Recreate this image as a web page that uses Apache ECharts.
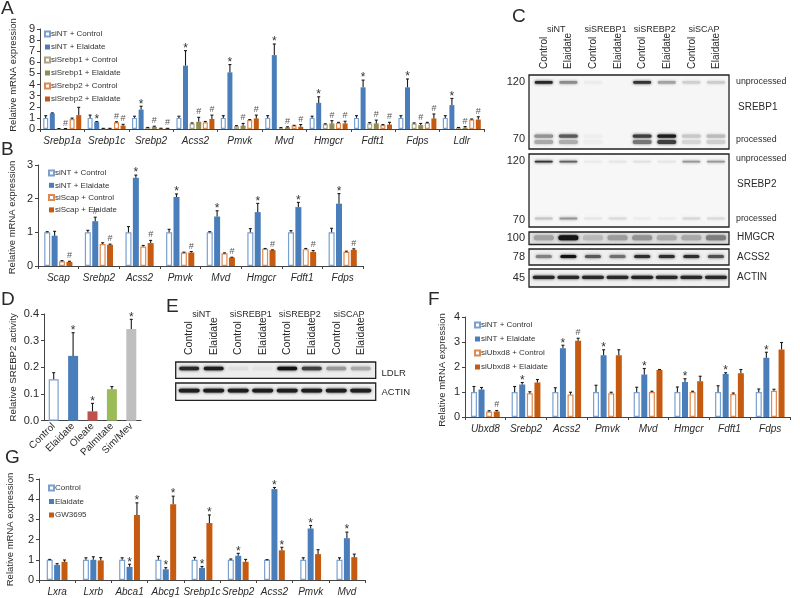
<!DOCTYPE html>
<html><head><meta charset="utf-8">
<style>html,body{margin:0;padding:0;background:#fff}#c{width:800px;height:598px;filter:blur(0.35px)}</style>
<script src="https://cdn.jsdelivr.net/npm/echarts@6/dist/echarts.min.js"></script>
</head><body><div id="c"></div>
<script>
// ---------- Panel A ----------
const aCats=['Srebp1a','Srebp1c','Srebp2','Acss2','Pmvk','Mvd','Hmgcr','Fdft1','Fdps','Ldlr'];
const aNames=['siNT + Control','siNT + Elaidate','siSrebp1 + Control','siSrebp1 + Elaidate','siSrebp2 + Control','siSrebp2 + Elaidate'];
const aVals=[
 [1,1,1,1,1,1,1,1,1,1],
 [1.4,0.62,1.75,5.7,5.1,6.65,2.35,3.75,3.75,2.15],
 [0.03,0.05,0.12,0.5,0.25,0.1,0.42,0.5,0.5,0.12],
 [0.03,0.05,0.2,0.65,0.3,0.15,0.5,0.5,0.35,0.12],
 [0.9,0.6,0.06,0.6,0.8,0.3,0.55,0.35,0.55,0.85],
 [1.25,0.3,0.05,0.9,0.95,0.2,0.5,0.4,0.95,0.85]];
const aErrs=[
 [0.2,0.25,0.15,0.15,0.2,0.2,0.15,0.2,0.2,0.2],
 [0.05,0.05,0.3,1.35,0.7,1.0,0.55,0.65,0.75,0.6],
 [0.01,0.01,0.02,0.05,0.05,0.03,0.05,0.08,0.05,0.02],
 [0.01,0.01,0.05,0.4,0.2,0.05,0.25,0.3,0.15,0.1],
 [0.08,0.05,0.01,0.08,0.05,0.03,0.05,0.05,0.05,0.05],
 [0.7,0.12,0.01,0.35,0.3,0.2,0.2,0.2,0.4,0.25]];
const aMarks=['   #  ',' *  ##',' * # #',' * # #',' * # #',' * # #',' * # #',' * # #',' * # #',' * # #'];
// ---------- Panel B ----------
const bCats=['Scap','Srebp2','Acss2','Pmvk','Mvd','Hmgcr','Fdft1','Fdps'];
const bNames=['siNT + Control','siNT + Elaidate','siScap + Control','siScap + Elaidate'];
const bVals=[
 [1,1,1,1,1,1,1,1],
 [0.9,1.33,2.62,2.05,1.47,1.6,1.75,1.85],
 [0.14,0.65,0.58,0.4,0.38,0.51,0.5,0.42],
 [0.12,0.63,0.68,0.4,0.25,0.47,0.42,0.48]];
const bErrs=[
 [0.02,0.06,0.17,0.09,0.02,0.11,0.05,0.12],
 [0.13,0.12,0.08,0.09,0.17,0.26,0.14,0.3],
 [0.02,0.04,0.03,0.01,0.01,0.01,0.02,0.02],
 [0.02,0.02,0.08,0.03,0.01,0.01,0.04,0.03]];
const bMarks=['   #',' # #',' * #',' * #',' * #',' * #',' * #',' * #'];
// ---------- Panel D ----------
const dCats=['Control','Elaidate','Oleate','Palmitate','Sim/Mev'];
const dVals=[0.155,0.243,0.035,0.118,0.344];
const dErrs=[0.025,0.087,0.03,0.01,0.036];
const dMarks=[' ','*','*',' ','*'];
// ---------- Panel F ----------
const fCats=['Ubxd8','Srebp2','Acss2','Pmvk','Mvd','Hmgcr','Fdft1','Fdps'];
const fNames=['siNT + Control','siNT + Elaidate','siUbxd8 + Control','siUbxd8 + Elaidate'];
const fVals=[
 [1,1,1,1,1,1,1,1],
 [1.1,1.3,2.75,2.47,1.7,1.4,1.72,2.37],
 [0.22,0.95,0.9,0.95,1.0,1.0,0.92,1.05],
 [0.22,1.38,3.05,2.47,1.88,1.43,1.75,2.7]];
const fErrs=[
 [0.22,0.22,0.17,0.27,0.19,0.2,0.25,0.12],
 [0.08,0.08,0.12,0.22,0.24,0.13,0.05,0.22],
 [0.03,0.06,0.09,0.04,0.03,0.03,0.04,0.06],
 [0.04,0.12,0.1,0.22,0.02,0.2,0.15,0.28]];
const fMarks=['   #',' *  ',' * #',' *  ',' *  ',' *  ',' *  ',' *  '];
// ---------- Panel G ----------
const gCats=['Lxra','Lxrb','Abca1','Abcg1','Srebp1c','Srebp2','Acss2','Pmvk','Mvd'];
const gNames=['Control','Elaidate','GW3695'];
const gVals=[
 [1,1,1,1,1,1,1,1,1],
 [0.75,1,0.65,0.53,0.6,1.2,4.5,2.55,2.07],
 [0.9,0.97,3.22,3.75,2.82,0.9,1.47,1.28,1.13]];
const gErrs=[
 [0.02,0.1,0.1,0.17,0.12,0.04,0.01,0.1,0.1],
 [0.06,0.15,0.13,0.08,0.07,0.12,0.08,0.15,0.3],
 [0.09,0.14,0.6,0.4,0.4,0.12,0.15,0.22,0.15]];
const gMarks=['   ','   ',' **',' **',' **',' * ',' **',' * ',' * '];
// ---------- Blots: band darkness per lane (0..1) ----------
const lanes=['Control','Elaidate','Control','Elaidate','Control','Elaidate','Control','Elaidate'];
const groupsBlot=['siNT','siSREBP1','siSREBP2','siSCAP'];
const c1Unprocessed=[0.9,0.45,0.02,0,0.85,0.35,0.15,0.16];
const c1ProcessedUp=[0.42,0.68,0.01,0,0.8,0.95,0.18,0.24];
const c1ProcessedLow=[0.32,0.3,0.01,0,0.55,0.8,0.12,0.15];
const c2Unprocessed=[0.85,0.65,0.03,0.05,0.07,0.05,0.4,0.4];
const c2Processed=[0.2,0.4,0.05,0.1,0.02,0.02,0.12,0.1];
const cHmgcr=[0.35,0.98,0.25,0.38,0.42,0.32,0.32,0.52];
const cAcss2=[0.5,1,0.68,0.58,0.88,0.88,0.88,0.72];
const cActin=[0.9,0.9,0.9,0.9,0.92,0.9,0.9,0.9];
const eLdlr=[0.9,0.95,0.08,0.06,1,0.8,0.4,0.32];
const eActin=[0.95,0.95,0.95,0.95,0.95,0.95,0.95,0.95];

const FONT='"Liberation Sans",Arial,sans-serif';
const TXT='#2a2a2a', AX='#444';
const BLUE='#4a7ebb', ORG='#c55a11', OLV='#948a54';
const opt={animation:false,backgroundColor:'#fff',textStyle:{fontFamily:FONT},grid:[],xAxis:[],yAxis:[],series:[],legend:[],graphic:{elements:[]}};
const sty={c:['#fff','#7aa0d0'],e:[BLUE,BLUE],c1:['#fff','#aca58a'],e1:[OLV,OLV],c2:['#fff','#dd8a52'],e2:[ORG,ORG]};

function errSeries(name,xi,yi,cats,vals,errs,marks,k,n,w,gap){
  return {type:'custom',name:name+' error',coordinateSystem:'cartesian2d',xAxisIndex:xi,yAxisIndex:yi,z:5,clip:false,silent:true,
    encode:{x:0,y:1},data:cats.map((c,i)=>[i,vals[i],errs[i]]),
    renderItem(p,api){
      const i=api.value(0),top=api.coord([i,api.value(1)+api.value(2)]),base=api.coord([i,api.value(1)]);
      const x=top[0]+(k-(n-1)/2)*(w+gap),m=marks[i];
      const ls={stroke:'#1a1a1a',lineWidth:1.1};
      const kids=[{type:'line',shape:{x1:x,y1:base[1],x2:x,y2:top[1]},style:ls},
                  {type:'line',shape:{x1:x-1.5,y1:top[1],x2:x+1.5,y2:top[1]},style:ls}];
      if(m==='*')kids.push({type:'text',style:{text:'*',x:x,y:top[1]-2,textAlign:'center',textVerticalAlign:'middle',fill:'#333',font:'12px '+FONT}});
      if(m==='#')kids.push({type:'text',style:{text:'#',x:x,y:top[1]-5.5,textAlign:'center',textVerticalAlign:'middle',fill:'#555',font:'9px '+FONT}});
      return {type:'group',children:kids};
    }};
}
function barPanel(c){
  const gi=opt.grid.length;
  opt.grid.push({left:c.left,top:c.top,width:c.width,height:c.height});
  opt.xAxis.push({type:'category',gridIndex:gi,data:c.cats,
    axisLine:{lineStyle:{color:AX,width:1}},axisTick:{show:true,length:3,lineStyle:{color:AX}},
    axisLabel:{interval:0,color:TXT,fontSize:10,fontStyle:'italic',margin:7,fontFamily:FONT}});
  opt.yAxis.push({type:'value',gridIndex:gi,min:0,max:c.max,interval:c.step,splitLine:{show:false},
    name:c.yName,nameLocation:'middle',nameGap:c.nameGap,nameRotate:90,nameTextStyle:{color:TXT,fontSize:9.5,fontFamily:FONT,padding:c.namePad||0},
    axisLine:{show:true,onZero:false,lineStyle:{color:AX}},axisTick:{show:true,length:3,lineStyle:{color:AX}},
    axisLabel:{color:TXT,fontSize:11,margin:5,fontFamily:FONT}});
  const n=c.vals.length,w=c.w,gap=c.gap;
  c.vals.forEach((v,k)=>{
    const s=sty[c.styles[k]];
    opt.series.push({type:'bar',name:c.names[k],xAxisIndex:gi,yAxisIndex:gi,data:v,barWidth:w,barGap:(gap/w*100)+'%',silent:true,
      itemStyle:{color:s[0],borderColor:s[1],borderWidth:s[0]==='#fff'?1.2:0}});
    opt.series.push(errSeries(c.names[k],gi,gi,c.cats,v,c.errs[k],c.marks.map(m=>m[k]),k,n,w,gap));
  });
  opt.legend.push({data:c.names,left:c.lx,top:c.ly,orient:'vertical',icon:'rect',itemWidth:5,itemHeight:5,itemGap:c.lgap,selectedMode:false,padding:0,
    textStyle:{color:'#333',fontSize:8,fontFamily:FONT,padding:[0,0,0,-4]}});
}
barPanel({cats:aCats,names:aNames,vals:aVals,errs:aErrs,marks:aMarks,styles:['c','e','c1','e1','c2','e2'],left:37.5,top:29,width:446.5,height:100,max:9,step:1,w:5,gap:1.6,yName:'Relative mRNA expression',nameGap:19.5,namePad:[0,0,0,8],lx:44,ly:30,lgap:5});
barPanel({cats:bCats,names:bNames,vals:bVals,errs:bErrs,marks:bMarks,styles:['c','e','c2','e2'],left:38,top:165,width:325,height:101,max:3,step:1,w:6,gap:1.4,yName:'Relative mRNA expression',nameGap:21,namePad:[0,4,0,0],lx:48,ly:169,lgap:4.3});
barPanel({cats:fCats,names:fNames,vals:fVals,errs:fErrs,marks:fMarks,styles:['c','e','c2','e2'],left:465,top:317,width:325.5,height:100,max:4,step:1,w:6,gap:1.6,yName:'Relative mRNA expression',nameGap:18,namePad:[0,6,0,0],lx:474,ly:321,lgap:6});
barPanel({cats:gCats,names:gNames,vals:gVals,errs:gErrs,marks:gMarks,styles:['c','e','e2'],left:39,top:479,width:326,height:101,max:5,step:1,w:6,gap:1.4,yName:'Relative mRNA expression',nameGap:24,lx:48,ly:484,lgap:5.5});
// Panel D: single series with per-bar colours
(function(){
  const gi=opt.grid.length;
  opt.grid.push({left:44,top:314,width:97,height:106.7});
  opt.xAxis.push({type:'category',gridIndex:gi,data:dCats,axisTick:{show:false},axisLine:{lineStyle:{color:AX,width:1}},
    axisLabel:{interval:0,rotate:45,color:TXT,fontSize:10,margin:4,fontFamily:FONT}});
  opt.yAxis.push({type:'value',gridIndex:gi,min:0,max:0.4,interval:0.1,splitLine:{show:false},
    name:'Relative SREBP2 activity',nameLocation:'middle',nameGap:26,nameRotate:90,nameTextStyle:{color:TXT,fontSize:9.7,fontFamily:FONT},
    axisLine:{show:true,lineStyle:{color:AX}},axisTick:{show:true,length:3,lineStyle:{color:AX}},
    axisLabel:{color:TXT,fontSize:11,margin:5,fontFamily:FONT,formatter:v=>v.toFixed(1)}});
  const dFill=['#fff',BLUE,'#c0504d','#9bbb59','#bfbfbf'];
  opt.series.push({type:'bar',name:'SREBP2 activity',xAxisIndex:gi,yAxisIndex:gi,barWidth:10,silent:true,
    data:dVals.map((v,i)=>({value:v,itemStyle:{color:dFill[i],borderColor:i?dFill[i]:'#7aa0d0',borderWidth:i?0:1.2}}))});
  opt.series.push(errSeries('SREBP2 activity',gi,gi,dCats,dVals,dErrs,dMarks,0,1,10,0));
})();

// ---------- Blots ----------
function band(gi,name,frac,thick,w,vals){
  opt.series.push({type:'custom',name:name,coordinateSystem:'cartesian2d',xAxisIndex:gi,yAxisIndex:gi,silent:true,clip:true,z:3,
    encode:{x:0,y:1},data:vals.map((v,i)=>[i,frac,v]),
    renderItem(p,api){
      const pt=api.coord([api.value(0),api.value(1)]),d=api.value(2);
      if(d<=0)return null;
      const g=Math.round(240-d*222),col='rgb('+g+','+g+','+g+')';
      return {type:'rect',shape:{x:pt[0]-w/2,y:pt[1]-thick/2,width:w,height:thick,r:thick/2},
        style:{fill:col,shadowBlur:3,shadowColor:col}};
    }});
}
function blot(name,b,xr,bg,bands){
  const gi=opt.grid.length;
  opt.grid.push({show:true,left:b[0],top:b[1],width:b[2],height:b[3],backgroundColor:bg,borderColor:'#222',borderWidth:1.3});
  opt.xAxis.push({type:'value',gridIndex:gi,min:xr[0],max:xr[1],show:false});
  opt.yAxis.push({type:'value',gridIndex:gi,min:0,max:1,inverse:true,show:false});
  bands.forEach(x=>band(gi,name,x[0],x[1],x[2],x[3]));
}
function header(left,width,axisTop,font,groupOffset,groupFont){
  const gi=opt.grid.length, xi=opt.xAxis.length, yi=opt.yAxis.length;
  opt.grid.push({left:left,top:axisTop,width:width,height:1,show:false});
  opt.yAxis.push({type:'value',gridIndex:gi,min:0,max:1,show:false});
  opt.xAxis.push({type:'category',gridIndex:gi,position:'top',data:lanes,axisLine:{show:false},axisTick:{show:false},
    axisLabel:{interval:0,rotate:90,fontSize:font,color:TXT,margin:2,fontFamily:FONT}});
  opt.xAxis.push({type:'category',gridIndex:gi,position:'top',offset:groupOffset,data:groupsBlot,axisLine:{show:false},axisTick:{show:false},
    axisLabel:{interval:0,fontSize:groupFont,color:TXT,margin:0,fontFamily:FONT}});
  opt.series.push({type:'line',name:'lanes',xAxisIndex:xi,yAxisIndex:yi,data:[],silent:true});
  opt.series.push({type:'line',name:'groups',xAxisIndex:xi+1,yAxisIndex:yi,data:[],silent:true});
}
function T(text,x,y,size,align){opt.graphic.elements.push({type:'text',x:x,y:y,silent:true,style:{text:text,fill:TXT,font:size+'px '+FONT,textAlign:align||'left',textVerticalAlign:'middle'}});}

const cX=[-0.6,7.53], eX=[-0.55,7.61];
blot('SREBP1',[529,75,200,74],cX,'#f6f6f6',[[0.10,2.6,18,c1Unprocessed],[0.825,3.2,19,c1ProcessedUp],[0.905,4,19,c1ProcessedLow]]);
blot('SREBP2',[529,154,200,73],cX,'#f7f7f7',[[0.105,1.6,18,c2Unprocessed],[0.885,2,18,c2Processed]]);
blot('HMGCR',[529,232,200,12.5],cX,'#dedede',[[0.45,5,20,cHmgcr]]);
blot('ACSS2',[529,249,200,16],cX,'#efefef',[[0.475,3,16,cAcss2]]);
blot('ACTIN',[529,269,200,18],cX,'#f0f0f0',[[0.46,3.2,22,cActin]]);
blot('LDLR',[175.7,362,200,16.3],eX,'#ededed',[[0.4,3.6,20,eLdlr]]);
blot('ACTIN ',[175.7,383,200,17.3],eX,'#f0f0f0',[[0.44,3.6,21,eActin]]);
header(531.7,197,71,10,37,9);
header(177,196.5,357,10.5,38,9);

// panel letters
[['A',1,9],['B',1,150],['C',512,17],['D',1,300],['E',166,307],['F',428,300],['G',5,458]].forEach(a=>T(a[0],a[1],a[2],19));
// blot annotations
[['120',525,82],['70',525,139],['120',525,161],['70',525,220],['100',525,238],['78',525,257],['45',525,278]].forEach(a=>T(a[0],a[1],a[2],11,'right'));
[['unprocessed',736,82,8.8],['SREBP1',738,107,10],['processed',736,140,8.8],['unprocessed',736,159,8.8],['SREBP2',737,184,10],['processed',736,219,8.8],
 ['HMGCR',737,237,10],['ACSS2',737,257,10],['ACTIN',737,277,10],['LDLR',381.5,373,9.5],['ACTIN',381.5,392,9.5]].forEach(a=>T(a[0],a[1],a[2],a[3]));

const chart=echarts.init(document.getElementById('c'),null,{renderer:'canvas',width:800,height:598});
chart.setOption(opt);
</script>
</body></html>
